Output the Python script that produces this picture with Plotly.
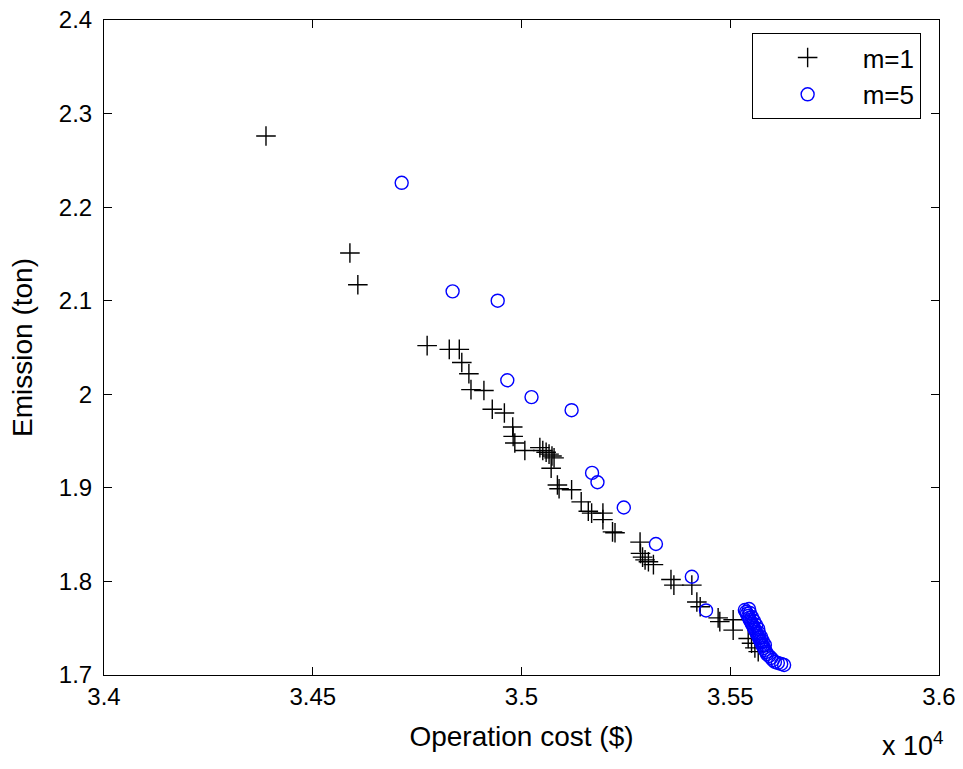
import plotly.graph_objects as go

# Operation cost ($) and emission (ton) for m=1
cost_m1 = [34388, 34589, 34608, 34774, 34827, 34851, 34857, 34874, 34879, 34910,
           34930, 34959, 34979, 34980, 34984, 35008, 35044, 35051, 35059, 35066,
           35073, 35078, 35071, 35086, 35090, 35120, 35143, 35160, 35168, 35195,
           35195, 35218, 35224, 35284, 35285, 35290, 35296, 35304, 35316, 35358,
           35365, 35408, 35420, 35428, 35471, 35475, 35507, 35507, 35543, 35551,
           35559, 35567]
emis_m1 = [2.276, 2.151, 2.117, 2.052, 2.048, 2.048, 2.034, 2.022, 2.005, 2.004,
           1.984, 1.980, 1.965, 1.955, 1.948, 1.940, 1.943, 1.940, 1.938, 1.936,
           1.934, 1.932, 1.921, 1.903, 1.899, 1.898, 1.885, 1.875, 1.873, 1.873,
           1.866, 1.853, 1.852, 1.842, 1.830, 1.826, 1.823, 1.821, 1.818, 1.802,
           1.796, 1.796, 1.778, 1.773, 1.761, 1.757, 1.759, 1.748, 1.739, 1.734,
           1.729, 1.725]

# Operation cost ($) and emission (ton) for m=5
cost_m5 = [34713, 34835, 34943, 34966, 35024, 35120, 35169, 35182, 35245, 35322,
           35408, 35442,
           35535, 35538, 35540, 35543, 35545, 35547, 35550, 35552, 35555, 35557,
           35559, 35562, 35564, 35567, 35569, 35571, 35574, 35576, 35578, 35581,
           35583, 35586, 35588, 35593, 35598, 35602, 35607, 35614, 35622, 35629,
           35545, 35547, 35552, 35557, 35562, 35567, 35569, 35574, 35578, 35583]
emis_m5 = [2.226, 2.110, 2.100, 2.015, 1.997, 1.983, 1.916, 1.906, 1.879, 1.840,
           1.805, 1.769,
           1.7695, 1.7674, 1.7653, 1.7630, 1.7609, 1.7588, 1.7566, 1.7545, 1.7523, 1.7502,
           1.7481, 1.7459, 1.7438, 1.7417, 1.7395, 1.7374, 1.7353, 1.7331, 1.7310, 1.7289,
           1.7267, 1.7246, 1.7224, 1.7203, 1.7182, 1.7160, 1.7139, 1.7128, 1.7118, 1.7107,
           1.7705, 1.7663, 1.7620, 1.7577, 1.7534, 1.7492, 1.7449, 1.7406, 1.7363, 1.7321]

x_tickvals = [34000, 34500, 35000, 35500, 36000]
x_ticktext = ["3.4", "3.45", "3.5", "3.55", "3.6"]
y_tickvals = [1.7, 1.8, 1.9, 2.0, 2.1, 2.2, 2.3, 2.4]
y_ticktext = ["1.7", "1.8", "1.9", "2", "2.1", "2.2", "2.3", "2.4"]

FONT = "Liberation Sans, Arial, sans-serif"

fig = go.Figure()
fig.add_trace(go.Scatter(
    x=cost_m1, y=emis_m1, mode="markers", name="m=1",
    marker=dict(symbol="cross-thin", size=14, color="black",
                line=dict(color="black", width=1.4)),
))
fig.add_trace(go.Scatter(
    x=cost_m5, y=emis_m5, mode="markers", name="m=5",
    marker=dict(symbol="circle-open", size=13, color="#0000FF",
                line=dict(color="#0000FF", width=1.4)),
))

axis_common = dict(
    showgrid=False, zeroline=False, showline=True, linecolor="black",
    linewidth=1, mirror="ticks", ticks="inside", ticklen=8, tickcolor="black",
    tickfont=dict(family=FONT, size=24, color="black"),
)

fig.update_layout(
    width=963, height=769,
    margin=dict(l=104, r=24, t=20, b=94, autoexpand=False),
    paper_bgcolor="white", plot_bgcolor="white",
    font=dict(family=FONT, color="black"),
    xaxis=dict(range=[34000, 36000], tickvals=x_tickvals, ticktext=x_ticktext,
               title=dict(text="Operation cost ($)", font=dict(family=FONT, size=28),
                          standoff=17),
               **axis_common),
    yaxis=dict(range=[1.7, 2.4], tickvals=y_tickvals, ticktext=y_ticktext,
               ticklabelstandoff=6,
               title=dict(text="Emission (ton)", font=dict(family=FONT, size=28),
                          standoff=18),
               **axis_common),
    legend=dict(x=0.978, y=0.980, xanchor="right", yanchor="top",
                bgcolor="white", bordercolor="black", borderwidth=1,
                font=dict(family=FONT, size=26), itemwidth=100,
                tracegroupgap=0),
    showlegend=True,
)

fig.add_annotation(
    text="x 10<sup>4</sup>", xref="paper", yref="paper",
    x=1.0, y=0, xanchor="right", yanchor="top", yshift=-50, xshift=7,
    showarrow=False, font=dict(family=FONT, size=27, color="black"),
)

fig.write_html("out.html", config={"displayModeBar": False},
               post_script="document.body.style.margin='0';")
